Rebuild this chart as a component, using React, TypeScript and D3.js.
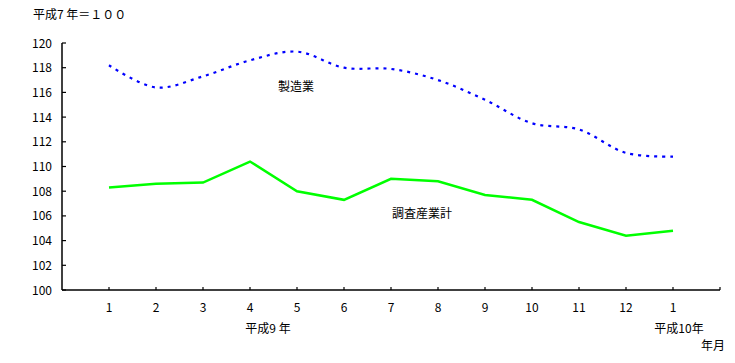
import { useEffect, useRef } from 'react'
import * as d3 from 'd3'

const months = ['1', '2', '3', '4', '5', '6', '7', '8', '9', '10', '11', '12', '1b']
const monthLabels = ['1', '2', '3', '4', '5', '6', '7', '8', '9', '10', '11', '12', '1']
const manufacturing = [118.2, 116.4, 117.3, 118.6, 119.3, 118.0, 117.9, 117.0, 115.4, 113.5, 113.0, 111.1, 110.8]
const allIndustries = [108.3, 108.6, 108.7, 110.4, 108.0, 107.3, 109.0, 108.8, 107.7, 107.3, 105.5, 104.4, 104.8]
const yTicks = [100, 102, 104, 106, 108, 110, 112, 114, 116, 118, 120]

const FONT = '"Noto Sans CJK JP", "DejaVu Sans", sans-serif'

export default function App() {
  const svgRef = useRef<SVGSVGElement>(null)

  useEffect(() => {
    if (!svgRef.current) return
    const svg = d3.select(svgRef.current)
    svg.selectAll('*').remove()

    const left = 62
    const right = 720
    const top = 43
    const bottom = 290

    const x = d3.scalePoint<string>().domain(months).range([left, right]).padding(1)
    const y = d3.scaleLinear().domain([100, 120]).range([bottom, top])

    const g = svg.append('g')

    // axes lines
    g.append('line')
      .attr('x1', left).attr('x2', left)
      .attr('y1', top).attr('y2', bottom)
      .attr('stroke', '#000').attr('stroke-width', 1.5)
    g.append('line')
      .attr('x1', left).attr('x2', right)
      .attr('y1', bottom).attr('y2', bottom)
      .attr('stroke', '#000').attr('stroke-width', 1.5)

    // y ticks
    g.selectAll('.ytick')
      .data(yTicks)
      .join('line')
      .attr('x1', left).attr('x2', left + 4)
      .attr('y1', d => y(d)).attr('y2', d => y(d))
      .attr('stroke', '#000').attr('stroke-width', 1.2)

    g.selectAll('.ylabel')
      .data(yTicks)
      .join('text')
      .attr('x', 52)
      .attr('y', d => y(d) + 4.5)
      .attr('text-anchor', 'end')
      .attr('font-family', FONT)
      .attr('font-size', 12)
      .attr('fill', '#000')
      .text(d => d)

    // x ticks
    const xTickPos = months.map(m => x(m)!).concat([right])
    g.selectAll('.xtick')
      .data(xTickPos)
      .join('line')
      .attr('x1', d => d).attr('x2', d => d)
      .attr('y1', bottom - 3).attr('y2', bottom)
      .attr('stroke', '#000').attr('stroke-width', 1.2)

    g.selectAll('.xlabel')
      .data(months)
      .join('text')
      .attr('x', d => x(d)!)
      .attr('y', 312)
      .attr('text-anchor', 'middle')
      .attr('font-family', FONT)
      .attr('font-size', 12)
      .attr('fill', '#000')
      .text((d, i) => monthLabels[i])

    // series
    const blueLine = d3.line<number>()
      .x((d, i) => x(months[i])!)
      .y(d => y(d))
      .curve(d3.curveCatmullRom.alpha(0.5))

    g.append('path')
      .datum(manufacturing)
      .attr('d', blueLine)
      .attr('fill', 'none')
      .attr('stroke', '#0000ff')
      .attr('stroke-width', 2.2)
      .attr('stroke-dasharray', '3 5')

    const greenLine = d3.line<number>()
      .x((d, i) => x(months[i])!)
      .y(d => y(d))

    g.append('path')
      .datum(allIndustries)
      .attr('d', greenLine)
      .attr('fill', 'none')
      .attr('stroke', '#00ff00')
      .attr('stroke-width', 2.5)

    // annotations
    const texts: [string, number, number, string][] = [
      ['平成7 年＝１００', 33, 19, 'start'],
      ['製造業', 296, 91, 'middle'],
      ['調査産業計', 422, 218, 'middle'],
      ['平成9 年', 268, 333, 'middle'],
      ['平成10年', 679, 333, 'middle'],
      ['年月', 713, 350, 'middle'],
    ]
    g.selectAll('.ann')
      .data(texts)
      .join('text')
      .attr('x', d => d[1])
      .attr('y', d => d[2])
      .attr('text-anchor', d => d[3])
      .attr('font-family', FONT)
      .attr('font-size', 12)
      .attr('fill', '#000')
      .text(d => d[0])
  }, [])

  return (
    <svg
      ref={svgRef}
      width={735}
      height={363}
      style={{ position: 'absolute', left: 0, top: 0, background: '#fff' }}
    />
  )
}
